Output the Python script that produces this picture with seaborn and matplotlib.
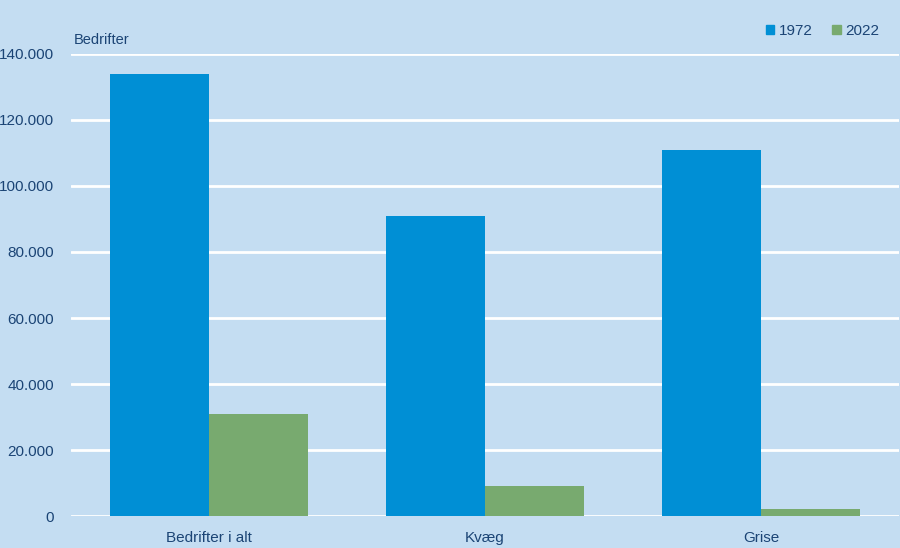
import pandas as pd
import seaborn as sns
import matplotlib.pyplot as plt
from matplotlib.ticker import FuncFormatter

# data
kategorier = ["Bedrifter i alt", "Kvæg", "Grise"]
aar = ["1972", "2022"]
vaerdier_1972 = [134000, 91000, 111000]
vaerdier_2022 = [31000, 9000, 2100]

bg = "#c4ddf2"
txt = "#1b4475"
farver = ["#008fd5", "#78aa6f"]

df = pd.DataFrame({
    "Kategori": kategorier * 2,
    "År": [aar[0]] * 3 + [aar[1]] * 3,
    "Bedrifter": vaerdier_1972 + vaerdier_2022,
})

sns.set_style("white")
plt.rcParams["font.family"] = ["Liberation Sans", "DejaVu Sans"]

fig = plt.figure(figsize=(9, 5.48), dpi=100, facecolor=bg)
ax = fig.add_axes([71 / 900, 32 / 548, 828 / 900, 462 / 548])
ax.set_facecolor(bg)

sns.barplot(data=df, x="Kategori", y="Bedrifter", hue="År", palette=farver,
            width=0.715, saturation=1, ax=ax, legend=False, linewidth=0, zorder=3)

ax.set_ylim(0, 140000)
ax.set_xlim(-0.5, 2.5)
ax.set_yticks(range(0, 140001, 20000))
ax.yaxis.set_major_formatter(FuncFormatter(lambda v, p: f"{int(v):,}".replace(",", ".")))
ax.grid(axis="y", color="white", linewidth=2, zorder=0)
ax.set_axisbelow(True)
for s in ax.spines.values():
    s.set_visible(False)
ax.tick_params(axis="y", length=0, colors=txt, labelsize=11, pad=12)
ax.tick_params(axis="x", length=0, colors=txt, labelsize=11, pad=11)
ax.set_xlabel("")
ax.set_ylabel("")

fig.text(74 / 900, 1 - 40 / 548, "Bedrifter", color=txt, fontsize=10.5, va="center")

handles = [plt.Rectangle((0, 0), 1, 1, color=c) for c in farver]
fig.legend(handles, aar, loc="center right", bbox_to_anchor=(893 / 900, 1 - 31 / 548),
           ncol=2, frameon=False, handlelength=0.55, handleheight=0.55, handletextpad=0.3,
           columnspacing=1.3, labelcolor=txt, fontsize=11)

fig.savefig("out.png", dpi=100, facecolor=bg)
